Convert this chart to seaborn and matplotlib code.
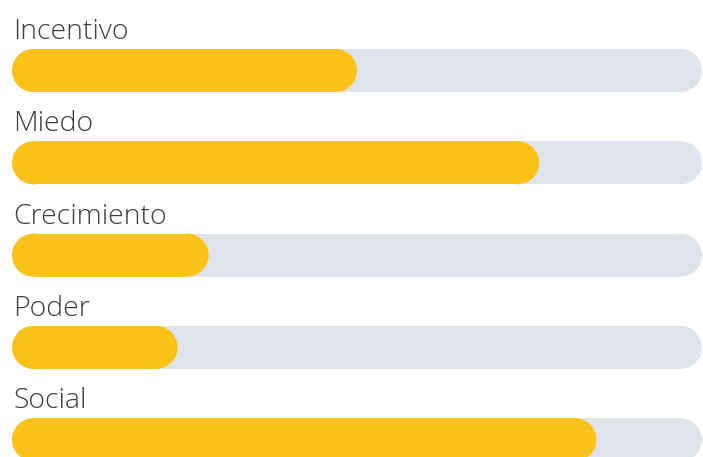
import matplotlib
matplotlib.use("Agg")
import matplotlib.pyplot as plt
import seaborn as sns
import pandas as pd
from matplotlib.patches import Rectangle, Ellipse

categories = ["Incentivo", "Miedo", "Crecimiento", "Poder", "Social"]
values = [50, 76.4, 28.5, 24, 84.7]
track_max = [100, 100, 100, 100, 100]

YELLOW = "#FDC21A"
TRACK = "#DFE4EA"
TEXT = "#3f3f3f"

sns.set_theme(style="white")
plt.rcParams["font.family"] = ["Open Sans", "DejaVu Sans"]

W, H = 703, 457
fig = plt.figure(figsize=(W / 100, H / 100), dpi=100)
ax = fig.add_axes([0, 0, 1, 1])

df = pd.DataFrame({"cat": categories, "val": values, "track": track_max})
bar_h = 43 / 92.3
sns.barplot(data=df, y="cat", x="track", color=TRACK, width=bar_h, ax=ax,
            saturation=1, orient="h")
sns.barplot(data=df, y="cat", x="val", color=YELLOW, width=bar_h, ax=ax,
            saturation=1, orient="h")

# pixel mapping
px_per_x = 690 / 100.0
px_per_y = 92.3
x0_px = 12
xmin = -x0_px / px_per_x
xmax = (W - x0_px) / px_per_x
y_top = -70.5 / px_per_y
y_bot = (H - 70.5) / px_per_y
ax.set_xlim(xmin, xmax)
ax.set_ylim(y_bot, y_top)

r = (43 / 2) / px_per_x  # cap radius in x units

patches = list(ax.patches)
for p in patches:
    x, y = p.get_x(), p.get_y()
    w, h = p.get_width(), p.get_height()
    fc = p.get_facecolor()
    z = p.get_zorder()
    p.remove()
    cy = y + h / 2
    ax.add_patch(Rectangle((x + r, y), max(w - 2 * r, 0), h, facecolor=fc,
                           edgecolor="none", zorder=z))
    for cx in (x + r, x + w - r):
        ax.add_patch(Ellipse((cx, cy), 2 * r, h, facecolor=fc,
                             edgecolor="none", zorder=z))

for i, c in enumerate(categories):
    ax.text(13 / px_per_x + xmin, i - bar_h / 2 - 10 / px_per_y, c,
            fontsize=20.5, fontweight="light", color=TEXT,
            ha="left", va="baseline")

ax.set_axis_off()
fig.savefig("out.png", dpi=100, facecolor="white")
